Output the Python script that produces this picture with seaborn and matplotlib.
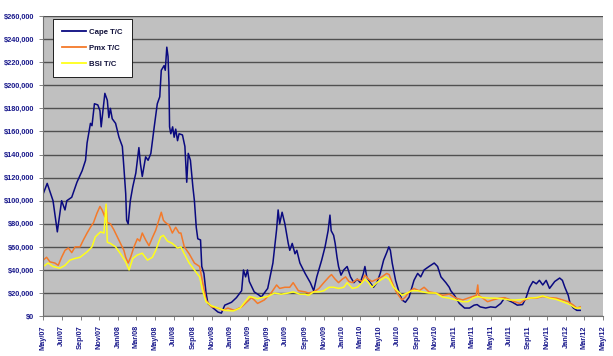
import pandas as pd
import matplotlib
matplotlib.use("Agg")
import matplotlib.pyplot as plt
import matplotlib.dates as mdates
from matplotlib.ticker import FuncFormatter
import seaborn as sns

# Cape T/C
cape_dates = [
    "2007-05-02", "2007-05-15", "2007-06-03", "2007-06-17", "2007-07-01", "2007-07-12", "2007-07-18",
    "2007-08-03", "2007-08-20", "2007-09-06", "2007-09-17", "2007-09-22", "2007-10-03", "2007-10-08",
    "2007-10-16", "2007-10-27", "2007-11-03", "2007-11-07", "2007-11-19", "2007-11-27", "2007-12-02",
    "2007-12-07", "2007-12-13", "2007-12-24", "2008-01-04", "2008-01-15", "2008-01-20", "2008-01-26",
    "2008-01-29", "2008-02-03", "2008-02-10", "2008-02-18", "2008-02-28", "2008-03-09", "2008-03-14",
    "2008-03-20", "2008-03-31", "2008-04-08", "2008-04-17", "2008-04-28", "2008-05-08", "2008-05-16",
    "2008-05-21", "2008-05-30", "2008-06-03", "2008-06-08", "2008-06-12", "2008-06-15", "2008-06-17",
    "2008-06-21", "2008-06-27", "2008-07-02", "2008-07-07", "2008-07-13", "2008-07-18", "2008-07-29",
    "2008-08-06", "2008-08-12", "2008-08-17", "2008-08-24", "2008-09-01", "2008-09-06", "2008-09-12",
    "2008-09-17", "2008-09-26", "2008-09-30", "2008-10-07", "2008-10-14", "2008-10-20", "2008-11-06",
    "2008-11-22", "2008-12-03", "2008-12-14", "2009-01-05", "2009-01-21", "2009-02-07", "2009-02-13",
    "2009-02-20", "2009-02-26", "2009-03-04", "2009-03-20", "2009-04-06", "2009-04-12", "2009-05-03",
    "2009-05-20", "2009-06-01", "2009-06-06", "2009-06-11", "2009-06-19", "2009-06-28", "2009-07-09",
    "2009-07-14", "2009-07-22", "2009-07-31", "2009-08-06", "2009-08-16", "2009-09-02", "2009-09-19",
    "2009-09-30", "2009-10-10", "2009-10-26", "2009-11-06", "2009-11-16", "2009-11-22", "2009-11-26",
    "2009-12-04", "2009-12-09", "2009-12-15", "2009-12-20", "2009-12-28", "2010-01-06", "2010-01-17",
    "2010-01-28", "2010-02-08", "2010-02-19", "2010-03-01", "2010-03-11", "2010-03-16", "2010-03-22",
    "2010-04-02", "2010-04-13", "2010-04-24", "2010-05-05", "2010-05-16", "2010-05-26", "2010-06-02",
    "2010-06-07", "2010-06-13", "2010-06-24", "2010-07-04", "2010-07-15", "2010-07-26", "2010-08-07",
    "2010-08-23", "2010-09-04", "2010-09-14", "2010-09-25", "2010-10-11", "2010-10-28", "2010-11-08",
    "2010-11-19", "2010-12-05", "2010-12-16", "2010-12-21", "2011-01-02", "2011-01-18", "2011-02-04",
    "2011-02-20", "2011-03-07", "2011-03-17", "2011-03-27", "2011-04-14", "2011-04-30", "2011-05-16",
    "2011-06-02", "2011-06-14", "2011-06-24", "2011-07-10", "2011-07-26", "2011-08-12", "2011-08-23",
    "2011-09-04", "2011-09-15", "2011-09-26", "2011-10-06", "2011-10-17", "2011-10-28", "2011-11-08",
    "2011-11-25", "2011-12-11", "2011-12-20", "2011-12-28", "2012-01-08", "2012-01-14", "2012-01-25",
    "2012-02-05", "2012-02-16",
]
cape_vals = [
    106000, 115000, 100000, 73000, 100000, 92000, 100000,
    103000, 116000, 126000, 135000, 150000, 167000, 165000,
    184000, 183000, 178000, 164000, 193000, 187000, 172000,
    180000, 171000, 167000, 155000, 147000, 129000, 106000,
    83000, 80000, 100000, 112000, 124000, 146000, 132000,
    121000, 138000, 135000, 141000, 164000, 184000, 190000,
    213000, 217000, 213000, 233000, 225000, 202000, 164000,
    158000, 164000, 155000, 162000, 152000, 158000, 157000,
    147000, 116000, 141000, 135000, 112000, 100000, 77000,
    67000, 66000, 43000, 37000, 20000, 11000, 7000,
    3500, 2600, 9500, 12000, 16000, 22000, 40000,
    34000, 40000, 30000, 21000, 18000, 16500, 24000,
    46000, 75000, 92000, 80000, 90000, 80000, 63000,
    57000, 63000, 54000, 57000, 46000, 37000, 29000,
    22000, 34000, 48500, 60000, 74000, 87500, 74000,
    70000, 63000, 51000, 43000, 35500, 40000, 43000,
    34000, 29000, 32000, 29000, 37000, 43000, 34000,
    29000, 25000, 29000, 37000, 48500, 55000, 60000,
    57000, 46000, 31000, 22000, 14000, 12000, 16500,
    31000, 37000, 34000, 40000, 43000, 46000, 43000,
    34000, 29000, 25000, 22000, 18000, 11000, 7000,
    7000, 9500, 10000, 8000, 7000, 8000, 7500,
    11000, 15600, 14000, 12000, 9500, 10000, 15600,
    25000, 30000, 28000, 31000, 27000, 31000, 24000,
    30000, 33000, 31000, 25000, 18000, 11000, 7000,
    5000, 5000,
]

# Pmx T/C
pmx_dates = [
    "2007-05-02", "2007-05-13", "2007-05-24", "2007-06-09", "2007-06-20", "2007-07-01", "2007-07-12",
    "2007-07-23", "2007-08-03", "2007-08-14", "2007-08-30", "2007-09-10", "2007-09-22", "2007-10-03",
    "2007-10-13", "2007-10-24", "2007-11-03", "2007-11-10", "2007-11-19", "2007-11-23", "2007-11-27",
    "2007-12-07", "2007-12-18", "2007-12-29", "2008-01-09", "2008-01-20", "2008-01-26", "2008-02-03",
    "2008-02-11", "2008-02-22", "2008-03-04", "2008-03-12", "2008-03-20", "2008-03-31", "2008-04-11",
    "2008-04-22", "2008-05-03", "2008-05-13", "2008-05-21", "2008-05-28", "2008-06-04", "2008-06-15",
    "2008-06-26", "2008-07-07", "2008-07-18", "2008-07-24", "2008-08-04", "2008-08-20", "2008-09-06",
    "2008-09-23", "2008-10-03", "2008-10-14", "2008-10-31", "2008-11-22", "2008-12-08", "2008-12-24",
    "2009-01-14", "2009-02-07", "2009-02-23", "2009-03-11", "2009-03-20", "2009-03-31", "2009-04-22",
    "2009-05-14", "2009-06-01", "2009-06-11", "2009-06-28", "2009-07-14", "2009-07-25", "2009-08-11",
    "2009-09-02", "2009-09-13", "2009-09-30", "2009-10-17", "2009-11-02", "2009-11-19", "2009-11-27",
    "2009-12-09", "2009-12-20", "2010-01-01", "2010-01-12", "2010-01-23", "2010-02-03", "2010-02-19",
    "2010-03-07", "2010-03-16", "2010-03-28", "2010-04-08", "2010-04-24", "2010-05-10", "2010-05-26",
    "2010-06-03", "2010-06-13", "2010-06-24", "2010-07-04", "2010-07-15", "2010-07-26", "2010-08-07",
    "2010-08-23", "2010-09-09", "2010-09-25", "2010-10-11", "2010-11-02", "2010-11-24", "2010-12-16",
    "2011-01-07", "2011-01-29", "2011-02-15", "2011-03-03", "2011-03-14", "2011-03-19", "2011-03-22",
    "2011-04-04", "2011-04-20", "2011-05-07", "2011-05-29", "2011-06-14", "2011-06-30", "2011-07-17",
    "2011-08-03", "2011-08-19", "2011-09-04", "2011-09-26", "2011-10-17", "2011-11-08", "2011-11-30",
    "2011-12-21", "2012-01-08", "2012-01-25", "2012-02-05", "2012-02-16",
]
pmx_vals = [
    48500, 51000, 47000, 46000, 44000, 51000, 57000,
    59000, 55000, 60000, 60000, 66000, 72000, 77000,
    81000, 89000, 95000, 92000, 86000, 96000, 81000,
    80000, 75000, 69000, 63000, 57000, 51000, 46000,
    51000, 60000, 67000, 65000, 72000, 66000, 61000,
    68000, 74500, 83000, 90000, 83000, 81000, 79000,
    72000, 77000, 72000, 72000, 60000, 54000, 46000,
    43000, 29000, 14000, 8000, 7000, 5000, 7000,
    5000, 8000, 12000, 16000, 14000, 11000, 14000,
    20000, 27000, 24000, 25000, 25000, 29000, 22000,
    21000, 20000, 21000, 24000, 29000, 34000, 36000,
    32000, 29000, 32000, 34000, 30000, 29000, 32000,
    30000, 35500, 32000, 30000, 32000, 34000, 37000,
    36000, 29000, 22000, 18000, 14000, 16500, 21000,
    24000, 22000, 25000, 21000, 20000, 18000, 19000,
    15600, 14000, 15600, 17000, 18000, 27000, 18000,
    15600, 12500, 14000, 15600, 16000, 14500, 12500,
    11000, 14000, 15600, 15600, 17000, 16000, 15600,
    14000, 12500, 9500, 7000, 8000,
]

# BSI T/C
bsi_dates = [
    "2007-05-02", "2007-05-18", "2007-06-03", "2007-06-25", "2007-07-12", "2007-07-28", "2007-08-14",
    "2007-08-30", "2007-09-22", "2007-10-08", "2007-10-19", "2007-11-05", "2007-11-16", "2007-11-23",
    "2007-11-27", "2007-12-07", "2007-12-24", "2008-01-09", "2008-01-26", "2008-02-06", "2008-02-18",
    "2008-03-04", "2008-03-20", "2008-04-06", "2008-04-22", "2008-05-03", "2008-05-19", "2008-05-28",
    "2008-06-10", "2008-06-26", "2008-07-13", "2008-07-24", "2008-08-04", "2008-08-20", "2008-09-06",
    "2008-09-23", "2008-10-03", "2008-10-14", "2008-10-31", "2008-11-22", "2008-12-14", "2009-01-11",
    "2009-02-02", "2009-02-18", "2009-03-04", "2009-03-20", "2009-03-31", "2009-04-12", "2009-05-03",
    "2009-05-25", "2009-06-16", "2009-07-09", "2009-07-25", "2009-08-16", "2009-09-02", "2009-09-13",
    "2009-09-30", "2009-10-17", "2009-11-02", "2009-11-19", "2009-12-04", "2009-12-20", "2010-01-06",
    "2010-01-17", "2010-02-03", "2010-02-19", "2010-03-07", "2010-03-16", "2010-03-28", "2010-04-08",
    "2010-04-24", "2010-05-10", "2010-05-23", "2010-06-03", "2010-06-17", "2010-07-04", "2010-07-15",
    "2010-07-31", "2010-08-17", "2010-09-04", "2010-09-20", "2010-10-11", "2010-11-02", "2010-11-24",
    "2010-12-16", "2011-01-07", "2011-01-29", "2011-02-15", "2011-03-03", "2011-03-19", "2011-04-04",
    "2011-04-26", "2011-05-16", "2011-06-08", "2011-06-30", "2011-07-21", "2011-08-12", "2011-09-04",
    "2011-09-26", "2011-10-17", "2011-11-08", "2011-11-30", "2011-12-21", "2012-01-14", "2012-01-31",
    "2012-02-16",
]
bsi_vals = [
    43000, 46000, 43000, 41500, 44000, 48500, 50000,
    51000, 55700, 60000, 68700, 73000, 72000, 97000,
    64000, 63000, 60000, 54000, 47000, 40000, 50000,
    53000, 54500, 48500, 51000, 57000, 68700, 70000,
    65000, 63000, 59000, 60000, 54000, 46000, 40000,
    34000, 22000, 12400, 9000, 7000, 5000, 4500,
    7000, 12400, 17000, 16000, 15000, 16000, 17000,
    20000, 19000, 20000, 21000, 19000, 19000, 18000,
    21000, 21000, 22000, 25000, 25000, 24000, 25000,
    29000, 24000, 25000, 29000, 32000, 29000, 25000,
    29000, 32000, 34000, 32000, 25000, 21000, 18000,
    20000, 22000, 22000, 21000, 20000, 20000, 16500,
    15600, 14000, 12500, 12500, 15600, 17000, 16000,
    15600, 15600, 15000, 14000, 14000, 14500, 15600,
    16000, 17500, 15600, 14500, 12500, 10000, 7000,
    7000,
]

series = [
    ("Cape T/C", cape_dates, cape_vals, "#0A0A80"),
    ("Pmx T/C", pmx_dates, pmx_vals, "#F47A2A"),
    ("BSI T/C", bsi_dates, bsi_vals, "#FFFF1A"),
]

label_color = "#1A1A8C"
plt.rcParams["font.family"] = ["Liberation Sans", "DejaVu Sans"]

fig = plt.figure(figsize=(6.13, 3.56), dpi=100)
ax = fig.add_axes([0.070, 0.112, 0.914, 0.843])
ax.set_facecolor("#C0C0C0")

for name, d, v, c in series:
    df = pd.DataFrame({"date": pd.to_datetime(d), "value": v})
    sns.lineplot(data=df, x="date", y="value", ax=ax, color=c, linewidth=1.1, label=name)

ax.set_xlim(pd.Timestamp("2007-05-01"), pd.Timestamp("2012-05-01"))
ax.set_ylim(0, 260000)
ax.set_yticks(range(0, 260001, 20000))
ax.yaxis.set_major_formatter(FuncFormatter(lambda v, p: "${:,.0f}".format(v)))
ax.xaxis.set_major_locator(mdates.MonthLocator(bymonth=[1, 3, 5, 7, 9, 11]))
ax.xaxis.set_major_formatter(mdates.DateFormatter("%b/%y"))
ax.set_xlabel("")
ax.set_ylabel("")

ax.grid(axis="y", color="#505050", linewidth=1.0)
ax.set_axisbelow(True)
for s in ["top", "right"]:
    ax.spines[s].set_visible(False)
for s in ["left", "bottom"]:
    ax.spines[s].set_color("#707070")
    ax.spines[s].set_linewidth(0.8)

ax.tick_params(axis="y", labelsize=5.3, colors="#707070", labelcolor=label_color, length=3, width=0.6)
ax.tick_params(axis="x", labelsize=5.3, colors="#707070", labelcolor=label_color, length=3, width=0.6,
               rotation=90)
for t in ax.get_xticklabels() + ax.get_yticklabels():
    t.set_fontweight("bold")

# legend box
leg = ax.legend(loc="upper left", bbox_to_anchor=(0.018, 0.99), fontsize=5.6, frameon=True,
                fancybox=False, edgecolor="black", framealpha=1, labelspacing=1.1,
                handlelength=3.0, handletextpad=0.4, borderpad=1.2, borderaxespad=0)
leg.get_frame().set_linewidth(0.6)
for t in leg.get_texts():
    t.set_fontweight("bold")
    t.set_color("#10103A")
for line in leg.get_lines():
    line.set_linewidth(1.3)

fig.savefig("out.png", dpi=100, facecolor="white")
